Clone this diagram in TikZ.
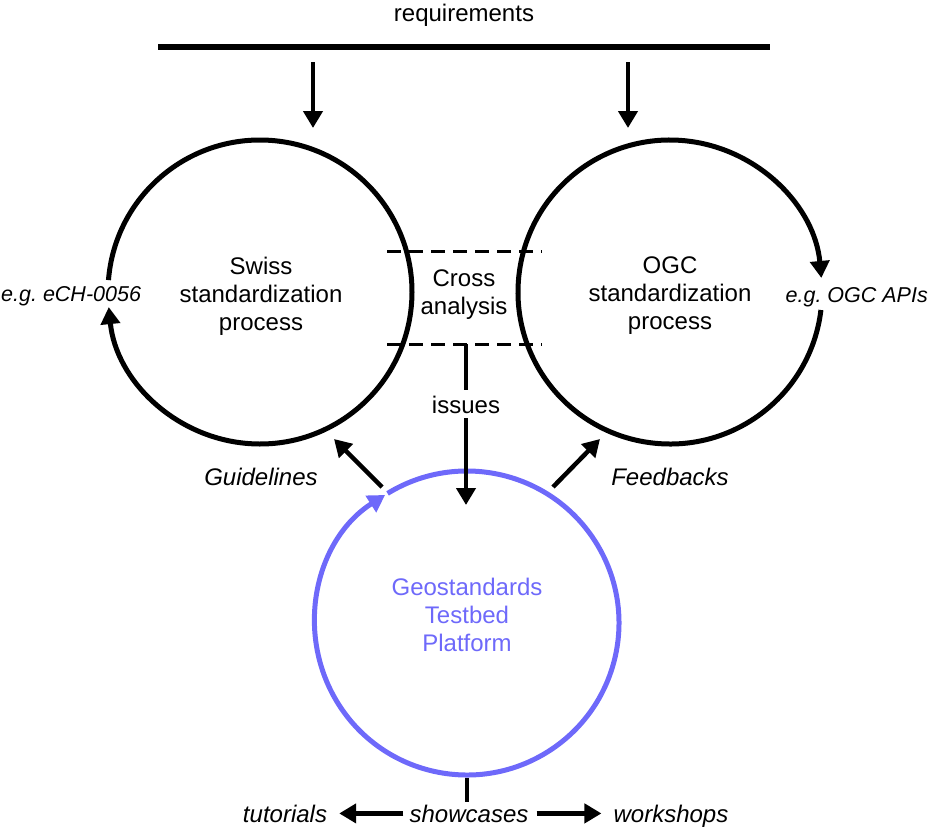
\documentclass[tikz,border=0pt]{standalone}
\usepackage{fontspec}
\setmainfont{Liberation Sans}
\usetikzlibrary{arrows.meta,calc}
\definecolor{testbed}{RGB}{110,105,250}
\tikzstyle{ring}=[draw,line width=5pt]
\tikzstyle{ringflow}=[ring,-{Triangle[length=17pt,width=19pt]}]
\tikzstyle{plain}=[draw,line width=4.5pt]
\tikzstyle{flow}=[plain,-{Triangle[length=17pt,width=19pt]}]
\tikzstyle{cut}=[draw,line width=3pt,dash pattern=on 14pt off 8pt]
\tikzstyle{txt}=[font=\fontsize{24}{28}\selectfont,inner sep=0pt,align=center]
\tikzstyle{hint}=[txt,font=\fontsize{24}{28}\selectfont\itshape]
\tikzstyle{smallhint}=[txt,font=\fontsize{21.5}{26}\selectfont\itshape]

\begin{document}
\begin{tikzpicture}[x=1pt,y=1pt]
    \useasboundingbox (0,0) rectangle (930,-830);

    % requirements bar
    \node[txt,anchor=base] (req) at (464,-21) {requirements};
    \coordinate (barL) at (158,-47);
    \coordinate (barR) at (770,-47);
    \draw[line width=5.5pt] (barL) -- (barR);
    \foreach \name/\x in {swissin/313, ogcin/628} {
        \coordinate (\name-a) at (\x,-62);
        \coordinate (\name-b) at (\x,-128);
        \path[flow] (\name-a) -- (\name-b);
    }

    % the three processes
    \coordinate (cS) at (260,-292);
    \coordinate (cO) at (670,-292);
    \coordinate (cG) at (467,-623);
    \draw[ringflow] ($(cS)+(175.5:152)$) arc[start angle=175.5, end angle=-174.3, radius=152];
    \draw[ringflow] ($(cO)+(-6.8:152)$) arc[start angle=-6.8, end angle=-354.7, radius=152];
    \draw[ringflow,testbed] ($(cG)+(121.5:152)$) arc[start angle=121.5, end angle=-237.4, radius=152];

    \node[txt] (swiss) at (261,-296) {Swiss\\standardization\\process};
    \node[txt] (ogc) at (670,-296) {OGC\\standardization\\process};
    \node[txt] (cross) at (464,-295) {Cross\\analysis};
    \node[txt,text=testbed] (geo) at (467,-615) {Geostandards\\Testbed\\Platform};

    \node[smallhint,anchor=base west] (ech) at (1,-301) {e.g.\ eCH-0056};
    \node[smallhint,anchor=base east] (apis) at (928,-302) {e.g.\ OGC APIs};

    % cross analysis band
    \foreach \name/\y in {top/251, bot/344} {
        \coordinate (\name-a) at (387,-\y);
        \coordinate (\name-b) at (542,-\y);
        \path[cut] (\name-a) -- (\name-b);
    }

    \node[txt,anchor=base,inner ysep=5pt] (issues) at (466,-413) {issues};
    \coordinate (geoin) at (466,-505);
    \path[plain] (bot-a -| issues.north) -- (issues.north);
    \path[flow] (issues.south) -- (geoin);

    % feedback from the testbed
    \coordinate (gl0) at (382,-487);
    \coordinate (gl1) at (334,-439);
    \coordinate (fb0) at (553,-487);
    \coordinate (fb1) at (600,-439);
    \path[flow] (gl0) -- (gl1);
    \path[flow] (fb0) -- (fb1);
    \node[hint,anchor=base] (guide) at (261,-485) {Guidelines};
    \node[hint,anchor=base] (feed) at (670,-485) {Feedbacks};

    % outputs
    \coordinate (geobot) at (467,-778);
    \node[hint,anchor=base,inner sep=2pt] (show) at (469,-822) {showcases};
    \node[hint,anchor=base] (tut) at (285,-822) {tutorials};
    \node[hint,anchor=base] (work) at (671,-822) {workshops};
    \path[plain] (geobot) -- (geobot |- show.north);
    \path[flow,shorten <=4pt,shorten >=12pt] (show.west) -- (show.west -| tut.east);
    \path[flow,shorten <=6pt,shorten >=12pt] (show.east) -- (show.east -| work.west);
\end{tikzpicture}
\end{document}
